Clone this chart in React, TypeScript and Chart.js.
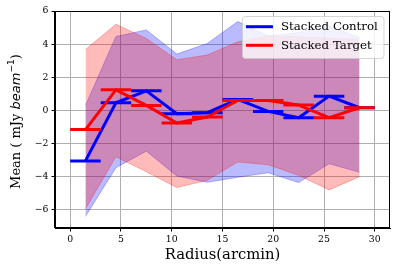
import React, { useEffect, useRef } from 'react';
import { Chart, registerables } from 'chart.js';

Chart.register(...registerables);

// ---- data ----
const radiusCenters = [1.5, 4.5, 7.5, 10.5, 13.5, 16.5, 19.5, 22.5, 25.5, 28.5];
const radiusHalfWidth = 1.5;

const controlMean = [-3.05, 0.46, 1.18, -0.2, -0.14, 0.66, -0.06, -0.44, 0.86, 0.16];
const controlUpper = [0.3, 4.46, 4.86, 3.4, 4.04, 5.36, 4.5, 4.7, 5.1, 4.4];
const controlLower = [-6.4, -3.46, -2.46, -3.96, -4.34, -4.04, -3.76, -4.36, -3.22, -3.74];

const targetMean = [-1.16, 1.24, 0.3, -0.76, -0.4, 0.6, 0.6, 0.32, -0.44, 0.16];
const targetUpper = [3.68, 5.2, 4.34, 3.06, 3.34, 4.14, 4.5, 4.45, 4.35, 4.3];
const targetLower = [-5.95, -2.8, -3.7, -4.66, -4.22, -3.12, -3.28, -3.92, -4.8, -4.0];

const seriesLabels = ['Stacked Control', 'Stacked Target'];
const xTicks = [0, 5, 10, 15, 20, 25, 30];
const yTicks = [-6, -4, -2, 0, 2, 4, 6];
const xLabel = 'Radius(arcmin)';

const SERIF = '"DejaVu Serif"';
const BLUE = '#0000ff';
const RED = '#ff0000';
const BLUE_FILL = 'rgba(0,0,255,0.27)';
const RED_FILL = 'rgba(255,0,0,0.27)';

function toPoints(xs: number[], ys: number[]) {
  return xs.map((x, i) => ({ x, y: ys[i] }));
}

function errorSegments(xs: number[], ys: number[], hw: number) {
  const out: { x: number; y: number | null }[] = [];
  xs.forEach((x, i) => {
    out.push({ x: x - hw, y: ys[i] });
    out.push({ x: x + hw, y: ys[i] });
    out.push({ x: x + hw, y: null });
  });
  return out;
}

const minusify = (v: number) => String(v).replace('-', '\u2212');

const decorPlugin = {
  id: 'decor',
  afterDraw(chart: any) {
    const ctx = chart.ctx as CanvasRenderingContext2D;
    const a = chart.chartArea;
    ctx.save();
    // spines
    ctx.strokeStyle = '#000';
    ctx.lineWidth = 1;
    ctx.strokeRect(Math.round(a.left) - 0.5, Math.round(a.top) + 0.5, Math.round(a.right - a.left) + 0, Math.round(a.bottom - a.top) - 1);

    // legend
    const lx = 242.5, ly = 16.5, lw = 141.5, lh = 42, r = 3;
    ctx.beginPath();
    ctx.moveTo(lx + r, ly);
    ctx.lineTo(lx + lw - r, ly);
    ctx.quadraticCurveTo(lx + lw, ly, lx + lw, ly + r);
    ctx.lineTo(lx + lw, ly + lh - r);
    ctx.quadraticCurveTo(lx + lw, ly + lh, lx + lw - r, ly + lh);
    ctx.lineTo(lx + r, ly + lh);
    ctx.quadraticCurveTo(lx, ly + lh, lx, ly + lh - r);
    ctx.lineTo(lx, ly + r);
    ctx.quadraticCurveTo(lx, ly, lx + r, ly);
    ctx.closePath();
    ctx.fillStyle = 'rgba(255,255,255,0.8)';
    ctx.fill();
    ctx.strokeStyle = 'rgba(204,204,204,0.8)';
    ctx.lineWidth = 1;
    ctx.stroke();
    const colors = [BLUE, RED];
    const rows = [26.7, 45.3];
    ctx.font = `11.8px ${SERIF}`;
    ctx.textBaseline = 'middle';
    ctx.textAlign = 'left';
    seriesLabels.forEach((lab, i) => {
      ctx.strokeStyle = colors[i];
      ctx.lineWidth = 3;
      ctx.beginPath();
      ctx.moveTo(246, rows[i]);
      ctx.lineTo(273, rows[i]);
      ctx.stroke();
      ctx.fillStyle = '#000';
      ctx.fillText(lab, 281, rows[i] + 0.5);
    });

    // x title
    ctx.font = `14.8px ${SERIF}`;
    ctx.fillStyle = '#000';
    ctx.textAlign = 'center';
    ctx.textBaseline = 'middle';
    ctx.fillText(xLabel, (a.left + a.right) / 2, 255);

    // y title (rich text)
    const fs = 13;
    const parts = [
      { t: 'Mean ( mJy ', f: `${fs}px ${SERIF}`, dy: 0 },
      { t: 'beam', f: `italic ${fs}px "DejaVu Sans"`, dy: 0 },
      { t: '\u22121', f: `${fs * 0.7}px "DejaVu Sans"`, dy: -5.5 },
      { t: ')', f: `${fs}px ${SERIF}`, dy: 0 },
    ];
    let total = 0;
    const widths = parts.map((p) => {
      ctx.font = p.f;
      const w = ctx.measureText(p.t).width;
      total += w;
      return w;
    });
    ctx.translate(17, 121.5);
    ctx.rotate(-Math.PI / 2);
    ctx.textAlign = 'left';
    ctx.textBaseline = 'middle';
    let cx = -total / 2;
    parts.forEach((p, i) => {
      ctx.font = p.f;
      ctx.fillText(p.t, cx, p.dy);
      cx += widths[i];
    });
    ctx.restore();
  },
};

export default function App() {
  const ref = useRef<HTMLCanvasElement | null>(null);
  useEffect(() => {
    if (!ref.current) return;
    const lineBase = { pointRadius: 0, pointHoverRadius: 0, tension: 0, spanGaps: false } as any;
    const chart = new Chart(ref.current, {
      type: 'line',
      data: {
        datasets: [
          { ...lineBase, label: 'cu', data: toPoints(radiusCenters, controlUpper), borderColor: BLUE_FILL, borderWidth: 1, backgroundColor: BLUE_FILL, fill: '+1', order: 4 },
          { ...lineBase, label: 'cl', data: toPoints(radiusCenters, controlLower), borderColor: BLUE_FILL, borderWidth: 1, fill: false, order: 4 },
          { ...lineBase, label: 'tu', data: toPoints(radiusCenters, targetUpper), borderColor: RED_FILL, borderWidth: 1, backgroundColor: RED_FILL, fill: '+1', order: 3 },
          { ...lineBase, label: 'tl', data: toPoints(radiusCenters, targetLower), borderColor: RED_FILL, borderWidth: 1, fill: false, order: 3 },
          { ...lineBase, label: seriesLabels[0], data: toPoints(radiusCenters, controlMean), borderColor: BLUE, borderWidth: 3, fill: false, order: 2, borderJoinStyle: 'round' },
          { ...lineBase, label: 'ce', data: errorSegments(radiusCenters, controlMean, radiusHalfWidth), borderColor: BLUE, borderWidth: 3, fill: false, order: 2 },
          { ...lineBase, label: seriesLabels[1], data: toPoints(radiusCenters, targetMean), borderColor: RED, borderWidth: 3, fill: false, order: 1, borderJoinStyle: 'round' },
          { ...lineBase, label: 'te', data: errorSegments(radiusCenters, targetMean, radiusHalfWidth), borderColor: RED, borderWidth: 3, fill: false, order: 1 },
        ],
      },
      options: {
        animation: false,
        responsive: false,
        devicePixelRatio: 1,
        layout: { padding: { left: 0, top: 11, right: 10, bottom: 0 } },
        plugins: { legend: { display: false }, tooltip: { enabled: false } },
        scales: {
          x: {
            type: 'linear',
            min: -1.5,
            max: 31.5,
            afterBuildTicks: (s: any) => { s.ticks = xTicks.map((v) => ({ value: v })); },
            afterFit: (s: any) => { s.height = 41; },
            ticks: { font: { family: 'DejaVu Serif', size: 9.3 }, color: '#000', padding: 3, maxRotation: 0, autoSkip: false, callback: (v: any) => minusify(Number(v)) },
            grid: { color: '#b0b0b0', lineWidth: 1, tickColor: '#000', tickLength: 3.5, tickWidth: 1 },
            border: { display: true, color: '#000', width: 1 },
          },
          y: {
            type: 'linear',
            min: -7.1,
            max: 6,
            afterBuildTicks: (s: any) => { s.ticks = yTicks.map((v) => ({ value: v })); },
            afterFit: (s: any) => { s.width = 55; },
            ticks: { font: { family: 'DejaVu Serif', size: 9.3 }, color: '#000', padding: 3, autoSkip: false, callback: (v: any) => minusify(Number(v)) },
            grid: { color: '#b0b0b0', lineWidth: 1, tickColor: '#000', tickLength: 3.5, tickWidth: 1 },
            border: { display: true, color: '#000', width: 1 },
          },
        },
      } as any,
      plugins: [decorPlugin],
    });
    return () => chart.destroy();
  }, []);
  return (
    <div style={{ position: 'absolute', left: 0, top: 0, width: 400, height: 269, background: '#fff' }}>
      <canvas ref={ref} width={400} height={269} style={{ display: 'block' }} />
    </div>
  );
}
